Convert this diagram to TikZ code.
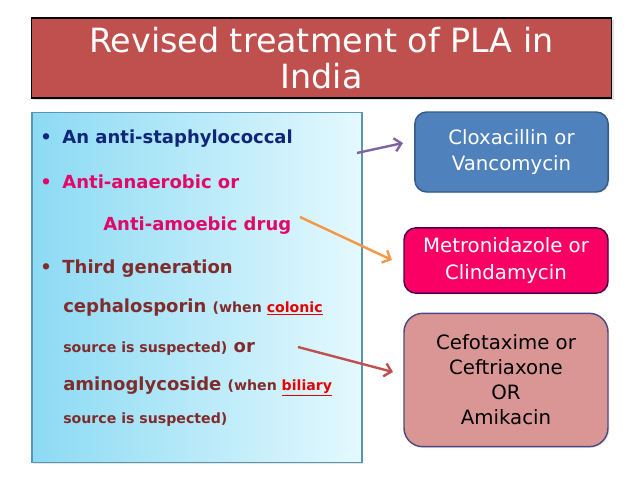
\documentclass[tikz,border=0pt]{standalone}
\usepackage{fontspec}
\setmainfont{DejaVu Sans}
\usetikzlibrary{arrows.meta,shadows}

\definecolor{titlered}{RGB}{192,80,77}
\definecolor{listleft}{RGB}{140,218,244}
\definecolor{listright}{RGB}{228,249,254}
\definecolor{listedge}{RGB}{90,150,175}
\definecolor{navy}{RGB}{16,38,120}
\definecolor{hotpink}{RGB}{226,8,104}
\definecolor{brownred}{RGB}{128,44,44}
\definecolor{undred}{RGB}{230,0,0}
\definecolor{boxblue}{RGB}{79,129,189}
\definecolor{boxpink}{RGB}{250,0,100}
\definecolor{boxrose}{RGB}{217,150,148}
\definecolor{arrowpurple}{RGB}{128,100,162}
\definecolor{arroworange}{RGB}{247,150,70}
\definecolor{arrowred}{RGB}{192,80,77}

\begin{document}
\begin{tikzpicture}
[x=0.75pt, y=-0.75pt, font=\bfseries]
\tikzstyle{drug}=[draw, rounded corners=9pt, line width=1.1pt, align=center, inner sep=0pt, font=\fontsize{14.8}{20}\selectfont]
\tikzstyle{item}=[anchor=base west, inner sep=0pt, font=\fontsize{13.5}{15}\selectfont\bfseries]
\tikzstyle{pointer}=[line width=1.8pt, -{Straight Barb[length=5pt,width=10pt]}]
\newcommand{\aside}{\fontsize{10.6}{12}\selectfont}

\useasboundingbox (0,0) rectangle (638,479);

\node[draw=black, line width=1pt, fill=titlered, text=white, align=center,
      minimum width=435pt, minimum height=60pt, inner sep=0pt,
      drop shadow={shadow xshift=1.5pt, shadow yshift=-1.5pt, fill=gray!50},
      font=\fontsize{25}{26.5}\selectfont]
      (title) at (321.5,58) {Revised treatment of PLA in\\India};

\node[draw=listedge, line width=0.8pt, left color=listleft, right color=listright,
      minimum width=247.5pt, minimum height=263pt, inner sep=0pt,
      drop shadow={shadow xshift=1pt, shadow yshift=-1pt, fill=gray!40}]
      (list) at (197,287.5) {};

\node[item, text=navy]     (L1) at (40,143) {•\hspace{8pt}An anti-staphylococcal};
\node[item, text=hotpink]  (L2) at (40,188) {•\hspace{8pt}Anti-anaerobic or};
\node[item, text=hotpink]  (L3) at (103,230) {Anti-amoebic drug};
\node[item, text=brownred] (L4) at (40,273) {•\hspace{8pt}Third generation};
\node[item, text=brownred] (L5) at (63,312) {cephalosporin {\aside (when \textcolor{undred}{\underline{colonic}}}};
\node[item, text=brownred] (L6) at (63,352) {{\aside source is suspected)} or};
\node[item, text=brownred] (L7) at (63,390) {aminoglycoside {\aside (when \textcolor{undred}{\underline{biliary}}}};
\node[item, text=brownred] (L8) at (63,423) {\aside source is suspected)};

\node[drug, fill=boxblue, draw=boxblue!70!black, text=white, minimum width=145pt, minimum height=60pt,
      drop shadow={shadow xshift=1pt, shadow yshift=-1pt, fill=gray!30}]
      (clox) at (511.5,152) {\mdseries Cloxacillin or\\\mdseries Vancomycin};
\node[drug, fill=boxpink, draw=violet!60!black, text=white, minimum width=153pt, minimum height=49pt,
      drop shadow={shadow xshift=1pt, shadow yshift=-1pt, fill=gray!30}]
      (metro) at (506,260.5) {\mdseries Metronidazole or\\\mdseries Clindamycin};
\node[drug, fill=boxrose, draw=blue!30!black!70, text=black, minimum width=153pt, minimum height=100pt,
      font=\fontsize{14.8}{18.8}\selectfont, rounded corners=14pt,
      drop shadow={shadow xshift=1pt, shadow yshift=-1pt, fill=gray!30}]
      (cefo) at (506,380) {\mdseries Cefotaxime or\\\mdseries Ceftriaxone\\\mdseries OR\\\mdseries Amikacin};

\coordinate (s1) at (357,153);
\coordinate (e1) at (403,143);
\coordinate (s2) at (300,217);
\coordinate (e2) at (392,260);
\coordinate (s3) at (298,347);
\coordinate (e3) at (393,372);

\draw[pointer, arrowpurple] (s1) -- (e1);
\draw[pointer, arroworange] (s2) -- (e2);
\draw[pointer, arrowred]    (s3) -- (e3);

\end{tikzpicture}
\end{document}
